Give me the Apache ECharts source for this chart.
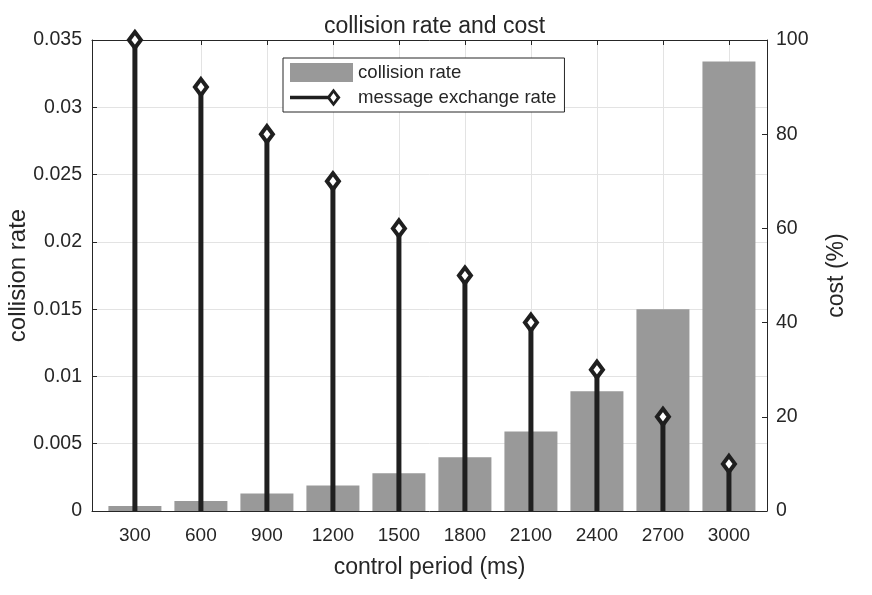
<!DOCTYPE html>
<html>
<head>
<meta charset="utf-8">
<script src="https://cdn.jsdelivr.net/npm/echarts@6/dist/echarts.min.js"></script>
<style>html,body{margin:0;padding:0;background:#fff}#c{width:872px;height:595px}</style>
</head>
<body>
<div id="c"></div>
<script>
const categories = [300, 600, 900, 1200, 1500, 1800, 2100, 2400, 2700, 3000];
const collisionRate = [0.00037, 0.00074, 0.0013, 0.0019, 0.0028, 0.0040, 0.0059, 0.0089, 0.0150, 0.0334];
const messageExchangeRate = [100, 90, 80, 70, 60, 50, 40, 30, 20, 10];
const titleText = 'collision rate and cost';
const xName = 'control period (ms)';
const yLeftName = 'collision rate';
const yRightName = 'cost (%)';

const FONT = 'Liberation Sans, Arial, Helvetica, sans-serif';
const TXT = '#262626';
const AX = '#262626';
const GRID = '#e3e3e3';

const chart = echarts.init(document.getElementById('c'), null, {renderer: 'canvas'});

const legendLinePath = 'path://M0 7.8 L38 7.8 L38 11.2 L0 11.2 Z ' +
  'M43.5 0.5 L50.5 9.5 L43.5 18.5 L36.5 9.5 Z ' +
  'M43.5 5 L40.3 9.5 L43.5 14 L46.7 9.5 Z ' +
  'M62.9 9.4 L63 9.4 L63 9.5 Z M0 0 L0.05 0 L0.05 0.05 Z M0 19 L0.05 19 L0.05 18.95 Z';

const option = {
  backgroundColor: '#fff',
  animation: false,
  textStyle: {fontFamily: FONT, color: TXT},
  title: {
    text: titleText, left: 429.5, textAlign: 'center', top: 10,
    textStyle: {fontFamily: FONT, fontSize: 23, fontWeight: 'normal', color: TXT}
  },
  grid: {left: 92, right: 105, top: 40, bottom: 84, containLabel: false, outerBoundsMode: 'none'},
  legend: {
    left: 283, top: 58, orient: 'vertical',
    padding: [5, 8, 5, 7], itemGap: 6, itemWidth: 63, itemHeight: 19,
    symbolKeepAspect: false,
    borderColor: AX, borderWidth: 1, backgroundColor: '#fff',
    textStyle: {fontFamily: FONT, fontSize: 18.6, color: TXT},
    data: [
      {name: 'collision rate', icon: 'rect', itemStyle: {color: '#999999'}},
      {name: 'message exchange rate', icon: legendLinePath, itemStyle: {color: '#1f1f1f', borderWidth: 0}}
    ]
  },
  xAxis: [{
    type: 'value', min: 105, max: 3173, position: 'bottom',
    name: xName, nameLocation: 'middle', nameGap: 45, nameMoveOverlap: false,
    nameTextStyle: {fontFamily: FONT, fontSize: 23, color: TXT},
    axisLine: {show: true, lineStyle: {color: AX, width: 1}},
    axisTick: {show: true, inside: true, length: 5, customValues: categories, lineStyle: {color: AX}},
    axisLabel: {show: true, customValues: categories, margin: 15, fontFamily: FONT, fontSize: 19, color: TXT,
      formatter: v => String(v)},
    splitLine: {show: true, lineStyle: {color: GRID, width: 1}}
  }, {
    type: 'value', min: 105, max: 3173, position: 'top',
    axisLine: {show: true, onZero: false, lineStyle: {color: AX, width: 1}},
    axisTick: {show: true, inside: true, length: 5, customValues: categories, lineStyle: {color: AX}},
    axisLabel: {show: false},
    splitLine: {show: false}
  }],
  yAxis: [{
    type: 'value', min: 0, max: 0.035, interval: 0.005, position: 'left',
    name: yLeftName, nameLocation: 'middle', nameRotate: 90, nameGap: 62, nameMoveOverlap: false,
    nameTextStyle: {fontFamily: FONT, fontSize: 24, color: TXT},
    axisLine: {show: true, lineStyle: {color: AX, width: 1}},
    axisTick: {show: true, inside: true, length: 5, lineStyle: {color: AX}},
    axisLabel: {margin: 10, fontFamily: FONT, fontSize: 19.5, color: TXT},
    splitLine: {show: true, lineStyle: {color: GRID, width: 1}}
  }, {
    type: 'value', min: 0, max: 100, interval: 20, position: 'right',
    name: yRightName, nameLocation: 'middle', nameRotate: 90, nameGap: 58, nameMoveOverlap: false,
    nameTextStyle: {fontFamily: FONT, fontSize: 23, color: TXT},
    axisLine: {show: true, lineStyle: {color: AX, width: 1}},
    axisTick: {show: true, inside: true, length: 5, lineStyle: {color: AX}},
    axisLabel: {margin: 9, fontFamily: FONT, fontSize: 19.5, color: TXT},
    splitLine: {show: false}
  }],
  series: [{
    name: 'collision rate', type: 'bar', xAxisIndex: 0, yAxisIndex: 0, z: 2,
    barWidth: 53,
    itemStyle: {color: '#999999'},
    data: categories.map((c, i) => [c, collisionRate[i]])
  }, {
    name: 'message exchange rate', type: 'custom', xAxisIndex: 0, yAxisIndex: 1, z: 5,
    clip: false,
    itemStyle: {color: '#1f1f1f'},
    renderItem: function (params, api) {
      const x = api.value(0), v = api.value(1);
      const p0 = api.coord([x, 0]);
      const p1 = api.coord([x, v]);
      const hw = 6, hh = 8;
      return {
        type: 'group',
        children: [{
          type: 'line',
          shape: {x1: p0[0], y1: p0[1], x2: p1[0], y2: p1[1]},
          style: {stroke: '#1f1f1f', lineWidth: 5}
        }, {
          type: 'polygon',
          shape: {points: [[p1[0], p1[1] - hh], [p1[0] + hw, p1[1]], [p1[0], p1[1] + hh], [p1[0] - hw, p1[1]]]},
          style: {fill: '#ffffff', stroke: '#1f1f1f', lineWidth: 4}
        }]
      };
    },
    data: categories.map((c, i) => [c, messageExchangeRate[i]])
  }]
};
chart.setOption(option);
</script>
</body>
</html>
